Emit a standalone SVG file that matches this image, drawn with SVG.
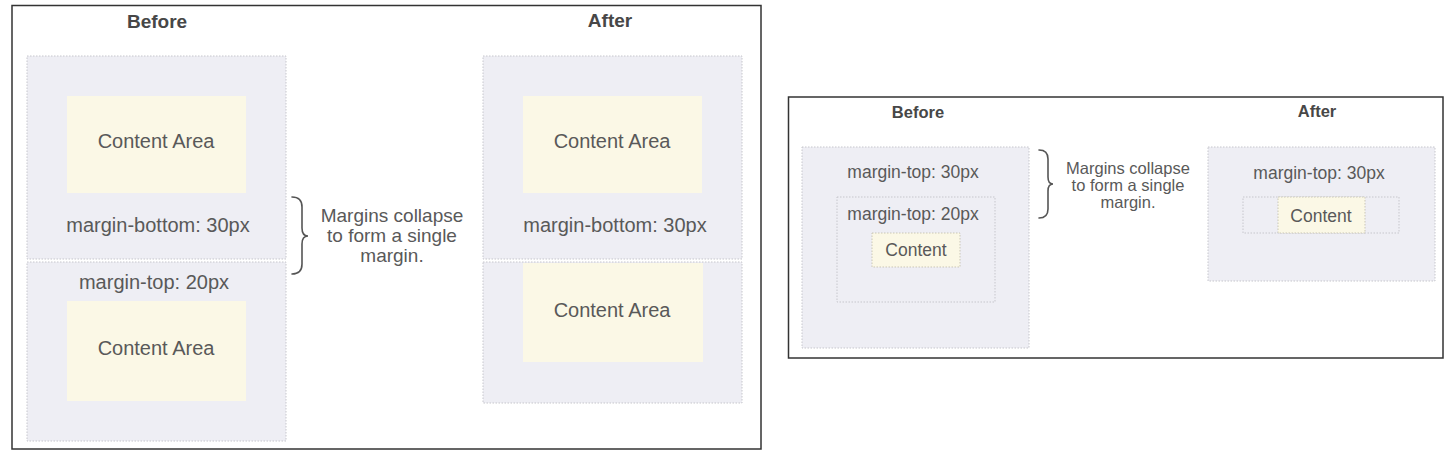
<svg xmlns="http://www.w3.org/2000/svg" width="1456" height="459" viewBox="0 0 1456 459">
<style>
.frame{fill:#fff;stroke:#333;stroke-width:1.5}
.box{fill:#eeeef4;stroke:#c6c6cc;stroke-width:1;stroke-dasharray:1.5 1.5}
.content{fill:#fbf8e6}
.contentd{fill:#fbf8e6;stroke:#c9c6b6;stroke-width:1;stroke-dasharray:1.5 1.5}
.title{font-family:"Liberation Sans",Arial,sans-serif;font-weight:bold;fill:#474747;text-anchor:middle}
.lbl{font-family:"Liberation Sans",Arial,sans-serif;fill:#595959;text-anchor:middle}
.brace{fill:none;stroke:#555;stroke-width:1.6;stroke-linecap:round}
</style>
<rect width="1456" height="459" fill="#fff"/>

<g id="panel-left">
  <rect class="frame" x="12" y="5.5" width="749" height="443.5"/>
  <text class="title" x="157" y="28" font-size="19">Before</text>
  <text class="title" x="610" y="27" font-size="19">After</text>
</g>

<g id="before-box1">
  <rect class="box" x="27" y="56" width="259" height="203"/>
  <rect class="content" x="67" y="96" width="179" height="97"/>
  <text class="lbl" x="156" y="148" font-size="20">Content Area</text>
  <text class="lbl" x="158" y="232" font-size="20">margin-bottom: 30px</text>
</g>
<g id="before-box2">
  <rect class="box" x="27" y="262" width="259" height="179"/>
  <text class="lbl" x="154" y="289" font-size="20">margin-top: 20px</text>
  <rect class="content" x="67" y="301" width="179" height="100"/>
  <text class="lbl" x="156" y="355" font-size="20">Content Area</text>
</g>

<g id="note-left">
  <path class="brace" d="M292,197 Q302,197 302,207 L302,228 Q302,236 308,236 Q302,236 302,244 L302,264 Q302,274 292,274"/>
  <text class="lbl" font-size="19"><tspan x="392" y="222">Margins collapse</tspan><tspan x="392" y="242">to form a single</tspan><tspan x="392" y="262">margin.</tspan></text>
</g>

<g id="after-box1">
  <rect class="box" x="483" y="56" width="259" height="203"/>
  <rect class="content" x="523" y="96" width="179" height="97"/>
  <text class="lbl" x="612" y="148" font-size="20">Content Area</text>
  <text class="lbl" x="615" y="232" font-size="20">margin-bottom: 30px</text>
</g>
<g id="after-box2">
  <rect class="box" x="483" y="262" width="259" height="141"/>
  <rect class="content" x="523" y="263" width="180" height="99"/>
  <text class="lbl" x="612" y="317" font-size="20">Content Area</text>
</g>

<g id="panel-right">
  <rect class="frame" x="788.5" y="97" width="654.5" height="261"/>
  <text class="title" x="918" y="118" font-size="16.5">Before</text>
  <text class="title" x="1317" y="117" font-size="16.5">After</text>
</g>

<g id="before-nested">
  <rect class="box" x="802" y="147" width="227" height="201"/>
  <text class="lbl" x="913" y="178" font-size="17.5">margin-top: 30px</text>
  <rect class="box" x="837" y="197" width="158" height="105"/>
  <text class="lbl" x="913" y="220" font-size="17.5">margin-top: 20px</text>
  <rect class="contentd" x="872" y="233" width="88" height="34"/>
  <text class="lbl" x="916" y="256" font-size="17.5">Content</text>
</g>

<g id="note-right">
  <path class="brace" d="M1039,150 Q1048,150 1048,159 L1048,177 Q1048,184 1053,184 Q1048,184 1048,191 L1048,209 Q1048,218 1039,218"/>
  <text class="lbl" font-size="16.5"><tspan x="1128" y="174">Margins collapse</tspan><tspan x="1128" y="191">to form a single</tspan><tspan x="1128" y="208">margin.</tspan></text>
</g>

<g id="after-nested">
  <rect class="box" x="1208" y="147" width="227" height="134"/>
  <text class="lbl" x="1319" y="179" font-size="17.5">margin-top: 30px</text>
  <rect class="box" x="1243" y="197" width="156" height="36"/>
  <rect class="contentd" x="1278" y="197" width="87" height="36"/>
  <text class="lbl" x="1321" y="222" font-size="17.5">Content</text>
</g>
</svg>
